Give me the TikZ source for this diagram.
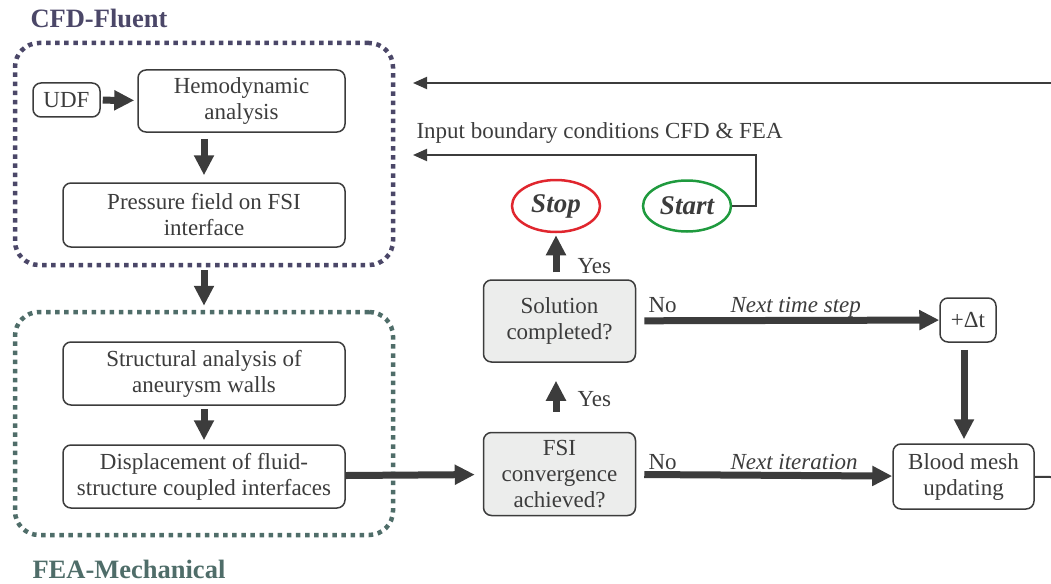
\documentclass[tikz,border=0pt]{standalone}
\usepackage{fontspec}
\setmainfont{Liberation Serif}
\usetikzlibrary{arrows.meta,shapes.geometric,positioning}

\definecolor{grigio}{HTML}{3C3C3C}
\definecolor{cfdcol}{HTML}{4B4768}
\definecolor{feacol}{HTML}{4F6D69}
\definecolor{stopcol}{HTML}{E0262E}
\definecolor{startcol}{HTML}{1F9A3E}
\definecolor{riemp}{HTML}{ECEDEC}

\begin{document}
\begin{tikzpicture}[x=1pt, y=-1pt,
    every node/.style={font=\fontsize{23}{26}\selectfont, text=grigio},
    blocco/.style={draw=grigio, line width=1.5pt, rounded corners=8pt, align=center, inner sep=0pt},
    decisione/.style={blocco, fill=riemp},
    ovale/.style={draw, ellipse, line width=2.5pt, inner sep=0pt, font=\fontsize{27}{30}\selectfont\bfseries\itshape},
    gruppo/.style={line width=4.5pt, dash pattern=on 4.5pt off 4.6pt, rounded corners=24pt, inner sep=0pt},
    titolo/.style={font=\fontsize{26.5}{30}\selectfont\bfseries, anchor=base west},
    freccia/.style={draw=grigio, line width=7pt, -{Triangle[length=20pt,width=19pt]}},
    filo/.style={draw=grigio, line width=2pt, -{Triangle[length=14pt,width=12pt]}},
    etichetta/.style={anchor=base west},
]
    \useasboundingbox (0,0) rectangle (1051,583);

    %riquadri tratteggiati
    \node[gruppo, draw=cfdcol, minimum width=378, minimum height=222] (cfd) at (204,154) {};
    \node[gruppo, draw=feacol, minimum width=378, minimum height=223] (fea) at (204,423.5) {};
    \node[titolo, text=cfdcol] (tcfd) at (27,28) {CFD-Fluent};
    \node[titolo, text=feacol] (tfea) at (29,578) {FEA-Mechanical};

    %blocchi CFD
    \node[blocco, minimum width=67, minimum height=34] (udf) at (66.5,100) {UDF};
    \node[blocco, minimum width=207, minimum height=62] (hemo) at (241.5,101) {Hemodynamic\\analysis};
    \node[blocco, minimum width=282, minimum height=64] (pres) at (204,215) {Pressure field on FSI\\interface};

    %blocchi FEA
    \node[blocco, minimum width=282, minimum height=63] (strut) at (204,373.5) {Structural analysis of\\aneurysm walls};
    \node[blocco, minimum width=282, minimum height=63] (disp) at (204,476.5) {Displacement of fluid-\\structure coupled interfaces};

    %decisioni
    \node[decisione, minimum width=152, minimum height=82] (sol) at (559.5,321) {Solution\\completed?};
    \node[decisione, minimum width=152, minimum height=83] (fsi) at (559.5,474) {FSI\\convergence\\achieved?};

    %passo temporale e mesh
    \node[blocco, minimum width=56, minimum height=44] (dt) at (968,320) {+Δt};
    \node[blocco, minimum width=141, minimum height=65] (mesh) at (963.5,476.5) {Blood mesh\\updating};

    %inizio e fine
    \node[ovale, draw=stopcol, minimum width=88, minimum height=52] (stop) at (556,206) {Stop};
    \node[ovale, draw=startcol, minimum width=88, minimum height=51] (start) at (687,206) {Start};

    %coordinate libere
    \coordinate (bordo1) at (1051,83);
    \coordinate (ritorno1) at (413,83);
    \coordinate (gomito) at (756,155);
    \coordinate (ritorno2) at (413,155);
    \coordinate (bordo2) at (1051,477);

    %frecce spesse
    \draw[freccia, shorten <=2pt, shorten >=3pt] (udf) -- (hemo);
    \draw[freccia, shorten <=6pt, shorten >=7pt] (hemo.south -| pres) -- (pres);
    \draw[freccia, shorten <=3pt, shorten >=4pt] (cfd.south -| pres) -- (fea.north -| pres);
    \draw[freccia, shorten <=3pt, shorten >=4pt] (strut) -- (disp);
    \draw[freccia, shorten >=8pt] (disp) -- (fsi);
    \draw[freccia, shorten <=20pt, shorten >=18pt] (fsi.north -| stop) -- (sol.south -| stop);
    \draw[freccia, shorten <=7pt, shorten >=2pt] (sol.north -| stop) -- (stop);
    \draw[freccia, shorten <=8pt] (sol) -- (dt);
    \draw[freccia, shorten <=7pt, shorten >=4pt] (dt.south -| 964,0) -- (mesh.north -| 964,0);
    \draw[freccia, shorten <=8pt] (fsi) -- (mesh);

    %linee sottili
    \draw[filo] (bordo1) -- (ritorno1);
    \draw[filo] (start) -- (start.east -| gomito) -- (gomito) -- (ritorno2);
    \draw[grigio, line width=2pt] (mesh) -- (bordo2);

    %etichette
    \node[etichetta] (lbc) at (413,138) {Input boundary conditions CFD \& FEA};
    \node[etichetta] (ys1) at (574,273) {Yes};
    \node[etichetta] (ys2) at (574,406) {Yes};
    \node[etichetta] (no1) at (645,312) {No};
    \node[etichetta] (no2) at (645,469) {No};
    \node[etichetta, font=\fontsize{23}{26}\selectfont\itshape] (nts) at (727,312) {Next time step};
    \node[etichetta, font=\fontsize{23}{26}\selectfont\itshape] (nit) at (727,469) {Next iteration};
\end{tikzpicture}
\end{document}
